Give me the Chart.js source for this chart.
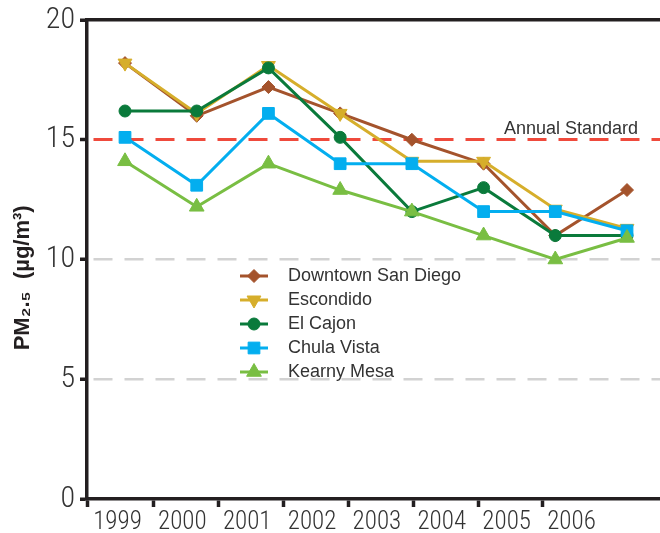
<!DOCTYPE html>
<html>
<head>
<meta charset="utf-8">
<title>PM2.5 San Diego</title>
<script src="https://cdn.jsdelivr.net/npm/chart.js@4.4.1/dist/chart.umd.min.js"></script>
<style>
  html, body { margin: 0; padding: 0; background: #fff; }
  #wrap { width: 660px; height: 533px; }
</style>
</head>
<body>
<div id="wrap"><canvas id="pmChart" width="660" height="533"></canvas></div>
<script>
// values
const years = ['1999', '2000', '2001', '2002', '2003', '2004', '2005', '2006'];
const downtown = [18.2, 16.0, 17.2, 16.1, 15.0, 14.0, 11.0, 12.9];
const escondido = [18.2, 16.1, 18.1, 16.1, 14.1, 14.1, 12.1, 11.3];
const elCajon = [16.2, 16.2, 18.0, 15.1, 12.0, 13.0, 11.0, 11.0];
const chulaVista = [15.1, 13.1, 16.1, 14.0, 14.0, 12.0, 12.0, 11.2];
const kearnyMesa = [14.1, 12.2, 14.0, 12.9, 12.0, 11.0, 10.0, 10.9];
const yTicks = [0, 5, 10, 15, 20];
const annualStandard = 15;

const axisColor = '#231f20';
const textColor = '#333333';
const narrow = "'Roboto Condensed', 'DejaVu Sans Condensed', 'Roboto', sans-serif";
const sans = "'Liberation Sans', Arial, sans-serif";

const series = [
  { label: 'Downtown San Diego', data: downtown, color: '#a4532c', style: 'rectRot', radius: 6.5, rotation: 0, order: 5 },
  { label: 'Escondido', data: escondido, color: '#d6ae2b', style: 'triangle', radius: 8, rotation: 180, order: 4 },
  { label: 'El Cajon', data: elCajon, color: '#0a7a3b', style: 'circle', radius: 6, rotation: 0, order: 3 },
  { label: 'Chula Vista', data: chulaVista, color: '#03aeef', style: 'rect', radius: 8.3, rotation: 0, order: 2 },
  { label: 'Kearny Mesa', data: kearnyMesa, color: '#79be43', style: 'triangle', radius: 8.5, rotation: 0, order: 1 }
];

// little line + marker pictures for the legend
function legendIcon(s) {
  const c = document.createElement('canvas');
  c.width = 28;
  c.height = 20;
  const g = c.getContext('2d');
  g.strokeStyle = s.color;
  g.fillStyle = s.color;
  g.lineWidth = 3;
  g.beginPath();
  g.moveTo(0, 10);
  g.lineTo(28, 10);
  g.stroke();
  g.lineWidth = 1;
  Chart.helpers.drawPoint(g, { pointStyle: s.style, radius: s.radius, rotation: s.rotation, borderWidth: 1 }, 14, 10);
  return c;
}
const icons = series.map(legendIcon);

const legendPad = 6;
const legendSpot = { x: 229, y: 267 };

const moveLegend = {
  id: 'moveLegend',
  afterLayout(chart) {
    const lg = chart.legend;
    if (!lg) return;
    const dx = legendSpot.x - legendPad - lg.left;
    const dy = legendSpot.y - legendPad - lg.top;
    lg.left += dx; lg.right += dx;
    lg.top += dy; lg.bottom += dy;
  }
};

const standardLabel = {
  id: 'standardLabel',
  afterDraw(chart) {
    const ctx = chart.ctx;
    const y = chart.scales.y.getPixelForValue(annualStandard);
    ctx.save();
    ctx.font = '18px ' + sans;
    ctx.fillStyle = textColor;
    ctx.textAlign = 'right';
    ctx.textBaseline = 'alphabetic';
    ctx.fillText('Annual Standard', 638, y - 6);
    ctx.restore();
  }
};

const yearNums = years.map(Number);
const labelMin = 1998.53, labelMax = 2007.365;

new Chart(document.getElementById('pmChart'), {
  type: 'line',
  data: {
    datasets: series.map(s => ({
      label: s.label,
      data: s.data.map((v, i) => ({ x: yearNums[i], y: v })),
      borderColor: s.color,
      backgroundColor: s.color,
      borderWidth: 3,
      pointStyle: s.style,
      pointRadius: s.radius,
      pointHoverRadius: s.radius,
      pointRotation: s.rotation,
      pointBorderWidth: 1,
      pointBorderColor: s.color,
      pointBackgroundColor: s.color,
      tension: 0,
      fill: false,
      order: s.order
    }))
  },
  options: {
    responsive: false,
    animation: false,
    layout: { padding: 0, autoPadding: false },
    plugins: {
      tooltip: { enabled: false },
      legend: {
        position: 'chartArea',
        align: 'start',
        labels: {
          usePointStyle: true,
          pointStyleWidth: 50,
          padding: legendPad,
          color: textColor,
          font: { size: 18, family: sans },
          generateLabels: () => series.map((s, i) => ({
            text: s.label,
            pointStyle: icons[i],
            datasetIndex: i,
            fontColor: textColor,
            lineWidth: 0,
            hidden: false
          }))
        }
      }
    },
    scales: {
      x: {
        type: 'linear',
        position: 'top',
        min: 1998.47,
        max: 2006.46,
        ticks: { display: false },
        grid: { display: false },
        border: { display: true, color: axisColor, width: 3.5 },
        afterFit(scale) { scale.height = 20; }
      },
      xl: {
        type: 'linear',
        position: 'bottom',
        min: labelMin,
        max: labelMax,
        afterBuildTicks(scale) {
          scale.ticks = [{ value: labelMin }].concat(yearNums.map(y => ({ value: y + 0.56 })));
        },
        ticks: {
          autoSkip: false,
          maxRotation: 0,
          padding: 1,
          labelOffset: -36.3,
          color: textColor,
          font: { size: 25, family: narrow, weight: 300 },
          callback: (v, i) => (i === 0 ? '' : years[i - 1])
        },
        grid: {
          drawOnChartArea: false,
          tickLength: 8,
          tickWidth: 3.5,
          tickColor: ctx => (ctx.index === years.length ? 'rgba(0,0,0,0)' : axisColor)
        },
        border: { display: true, color: axisColor, width: 3.5 },
        afterFit(scale) { scale.height = 34; }
      },
      y: {
        type: 'linear',
        min: 0,
        max: 20,
        afterBuildTicks(scale) {
          scale.ticks = yTicks.map(v => ({ value: v }));
        },
        ticks: {
          padding: 5,
          color: textColor,
          font: { size: 30, family: narrow, weight: 300, lineHeight: 1 }
        },
        grid: {
          tickLength: 7,
          tickWidth: 3.5,
          tickColor: axisColor,
          color: ctx => {
            const v = ctx.tick ? ctx.tick.value : null;
            if (v === annualStandard) return '#ef4a3c';
            if (v === 5 || v === 10) return '#d2d2d2';
            return 'rgba(0,0,0,0)';
          },
          lineWidth: ctx => (ctx.tick && ctx.tick.value === annualStandard ? 3 : 2.5)
        },
        border: { display: true, color: axisColor, width: 3.5, dash: [19, 12], dashOffset: -5 },
        title: {
          display: true,
          text: 'PM\u2082.\u2085  (\u00b5g/m\u00b3)      ',
          color: axisColor,
          font: { size: 22, weight: 'bold', family: sans },
          padding: { top: 10, bottom: 0 }
        },
        afterFit(scale) { scale.width = 87; }
      }
    }
  },
  plugins: [moveLegend, standardLabel]
});
</script>
</body>
</html>
